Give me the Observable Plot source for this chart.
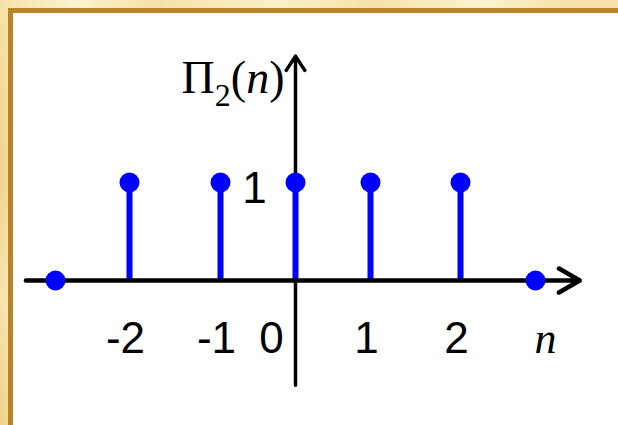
<!DOCTYPE html>
<html><head><meta charset="utf-8">
<script src="https://cdn.jsdelivr.net/npm/d3@7"></script>
<script src="https://cdn.jsdelivr.net/npm/@observablehq/plot@0.6"></script>
<style>
html,body{margin:0;padding:0;width:618px;height:425px;overflow:hidden;}
body{position:relative;background:
  linear-gradient(90deg,rgba(255,250,225,0) 0%,rgba(255,250,225,.7) 12%,rgba(255,250,225,0) 25%,rgba(255,250,225,.6) 45%,rgba(255,250,225,0) 60%,rgba(255,250,225,.7) 78%,rgba(255,250,225,0) 92%),
  linear-gradient(180deg,#f6e2a8,#f1d58e 40%,#f7e4ae 70%,#f0d38a);}
#panel{position:absolute;left:8px;top:8px;right:0;bottom:0;background:#fff;border-left:5px solid #b9822b;border-top:5px solid #b9822b;}
#chart{position:absolute;left:0;top:0;}
</style></head><body><div id="panel"></div><div id="chart"></div>
<script>
// samples of Π2(n)
const n = [-3, -2, -1, 0, 1, 2, 3];
const values = [0, 1, 1, 1, 1, 1, 0];
// tick labels along n
const tickValues = [-2, -1, 1, 2];
const tickLabels = ["-2", "-1", "1", "2"];
const originLabel = ["0"];
const yTickLabel = ["1"];
// axis extents (data units)
const xAxisExtent = [-3.4, 3.59];
const yAxisExtent = [-1.07, 2.29];

const samples = n.map((k, i) => ({n: k, v: values[i]}));
const stems = samples.filter(d => d.v !== 0);
const ticks = tickValues.map((t, i) => ({t, label: tickLabels[i]}));

const sans = "Liberation Sans, Arial, sans-serif";
const serif = "Liberation Serif, Times New Roman, serif";
const blue = "#0000ff";

const chart = Plot.plot({
  width: 618,
  height: 425,
  margin: 0,
  style: {background: "transparent", overflow: "visible"},
  x: {type: "linear", domain: n, range: [55, 129, 220, 295, 370, 460, 535], axis: null},
  y: {type: "linear", domain: [0, 1], range: [280, 182], axis: null},
  marks: [
    Plot.arrow([0], {x1: 0, x2: 0, y1: yAxisExtent[0], y2: yAxisExtent[1], stroke: "#000", strokeWidth: 3.5, headLength: 7.3, headAngle: 66}),
    Plot.ruleX(stems, {x: "n", y1: 0, y2: "v", stroke: blue, strokeWidth: 6}),
    Plot.arrow([0], {x1: xAxisExtent[0], x2: xAxisExtent[1], y1: 0, y2: 0, stroke: "#000", strokeWidth: 4.5, headLength: 8, headAngle: 60}),
    Plot.dot(samples, {x: "n", y: "v", r: 10, fill: blue}),
    Plot.text(ticks, {x: "t", y: 0, text: "label", dx: -4, dy: 72, lineAnchor: "bottom", textAnchor: "middle", fontSize: 44, fontFamily: sans, fill: "#000"}),
    Plot.text(originLabel, {x: 0, y: 0, text: d => d, dx: -24, dy: 72, lineAnchor: "bottom", textAnchor: "middle", fontSize: 44, fontFamily: sans, fill: "#000"}),
    Plot.text(["n"], {x: 3, y: 0, text: d => d, dx: 10, dy: 72, lineAnchor: "bottom", textAnchor: "middle", fontSize: 44, fontFamily: serif, fontStyle: "italic", fill: "#000"}),
    Plot.text(yTickLabel, {x: 0, y: 1, text: d => d, dx: -41, dy: 20, lineAnchor: "bottom", textAnchor: "middle", fontSize: 44, fontFamily: sans, fill: "#000"}),
    Plot.text(["Π2(n)"], {x: 0, y: 1, text: d => d, dx: -11, dy: -90, lineAnchor: "bottom", textAnchor: "end", fontSize: 46, fontFamily: serif, fill: "#000", className: "pi-label"})
  ]
});
document.getElementById("chart").appendChild(chart);

// rich text for Π₂(n)
const t = d3.select(chart).select(".pi-label text");
t.text(null);
t.append("tspan").text("Π");
t.append("tspan").attr("font-size", 32).attr("dy", 13).text("2");
t.append("tspan").attr("dy", -13).text("(");
t.append("tspan").attr("font-style", "italic").text("n");
t.append("tspan").text(")");
</script>
</body></html>
